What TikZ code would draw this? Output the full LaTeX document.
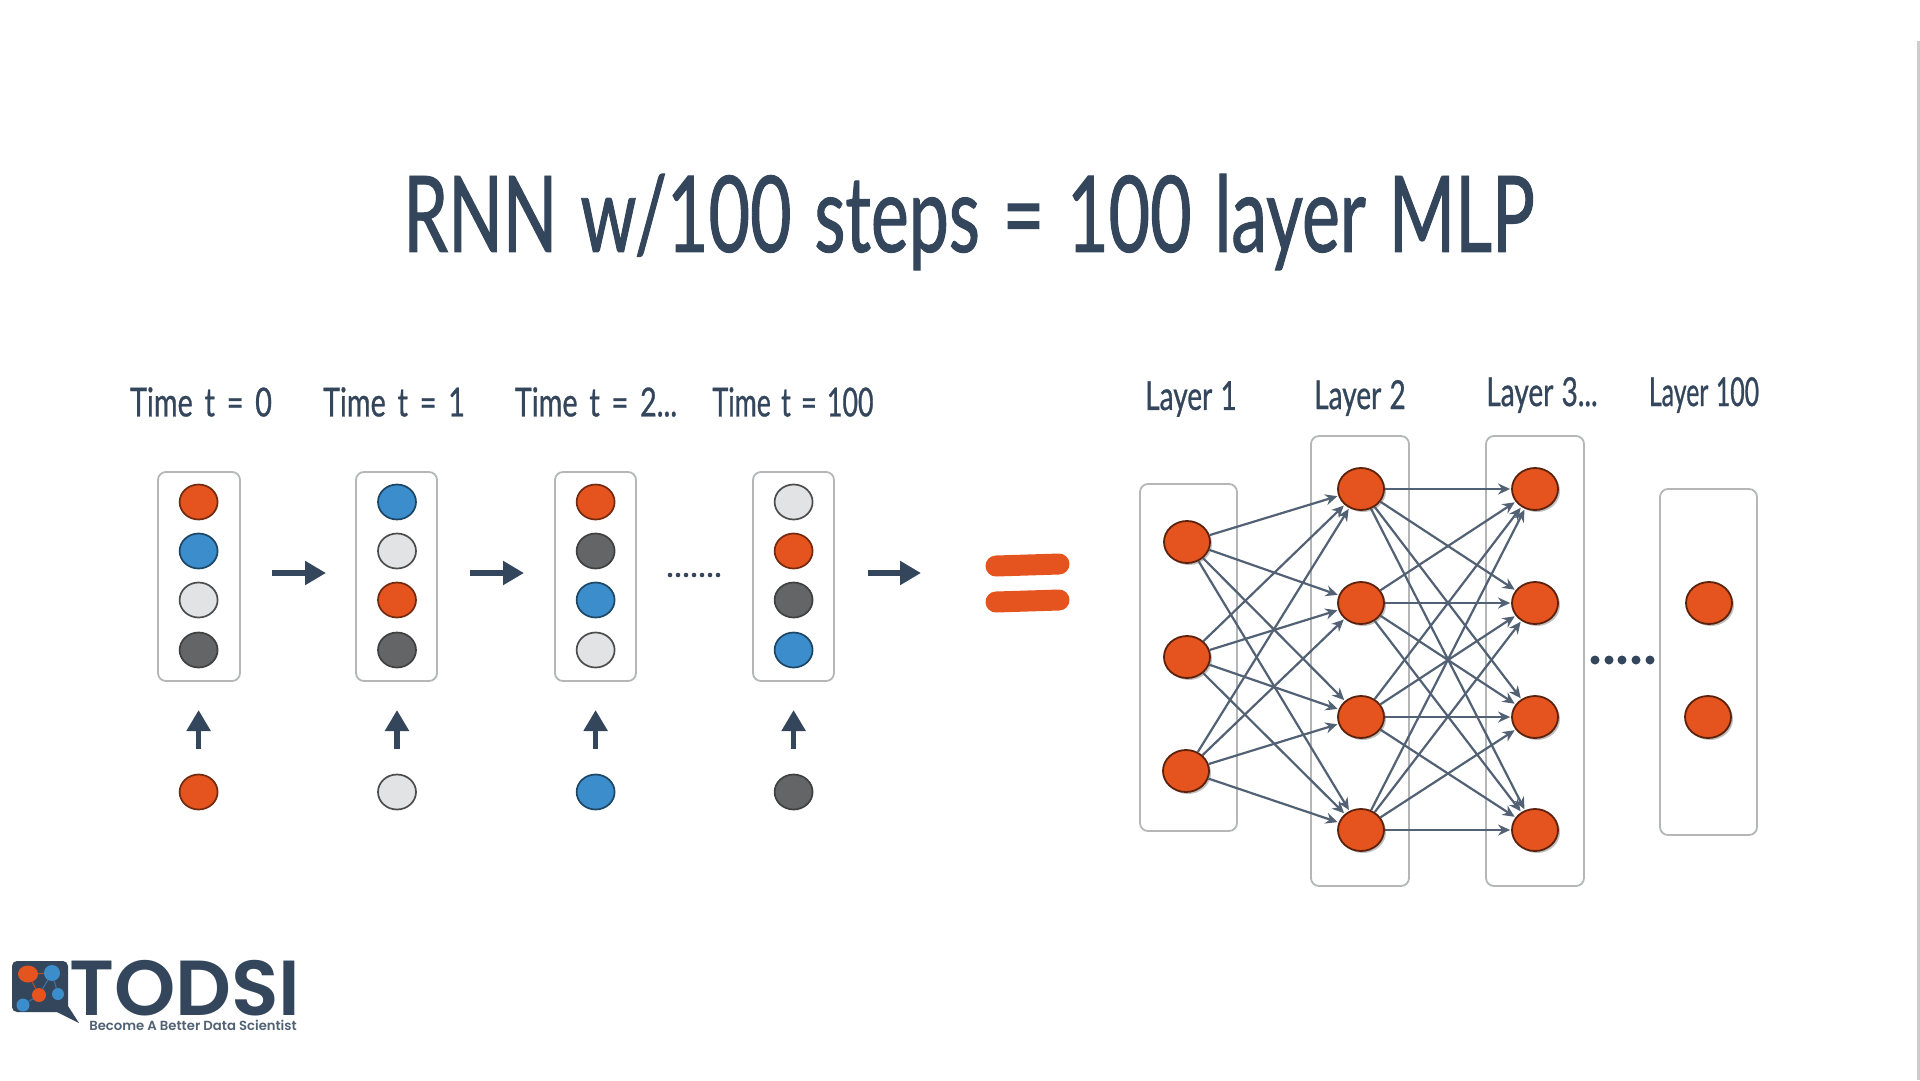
\documentclass[tikz,border=0pt]{standalone}
\usepackage{fontspec}
\usetikzlibrary{arrows.meta,shapes.geometric,shadows}
\newfontfamily\handfont[FakeStretch=0.675,FakeBold=0.9,WordSpace=1.25]{Lato}
\newfontfamily\labelfont[FakeStretch=0.72,FakeBold=0.7,WordSpace=1.6]{Lato}
\newfontfamily\layerfont[FakeStretch=0.70,FakeBold=0.7,WordSpace=1.15]{Lato}
\newfontfamily\narrowfont[FakeStretch=0.62,FakeBold=0.7,WordSpace=1.2]{Lato}
\newfontfamily\wideTfont[FakeStretch=0.67,FakeBold=0.7,WordSpace=1.5]{Lato}
\newfontfamily\logofont[BoldFont={Poppins SemiBold}]{Poppins}
\definecolor{ink}{HTML}{34465C}
\definecolor{orangeN}{HTML}{E5541E}
\definecolor{blueN}{HTML}{3B8DCB}
\definecolor{lightN}{HTML}{E2E3E4}
\definecolor{darkN}{HTML}{646566}
\definecolor{boxline}{HTML}{B4B6B8}
\tikzset{
  x=1pt,y=-1pt,
  frame/.style={draw=boxline,line width=1.8pt,rounded corners=8pt,fill=white},
  cell/.style={ellipse,inner sep=0pt,minimum width=38pt,minimum height=35pt,line width=1.7pt},
  cO/.style={cell,fill=orangeN,draw=orangeN!50!black},
  cB/.style={cell,fill=blueN,draw=blueN!50!black},
  cL/.style={cell,fill=lightN,draw=black!70},
  cD/.style={cell,fill=darkN,draw=black!75},
  neuron/.style={ellipse,inner sep=0pt,minimum width=46pt,minimum height=42pt,line width=1.8pt,
    fill=orangeN,draw=orangeN!40!black,drop shadow={shadow xshift=2pt,shadow yshift=-2pt,opacity=.25,fill=black}},
  link/.style={draw=ink!85,line width=2.2pt,-{Stealth[length=12pt,width=11pt]},shorten >=1pt},
  bigarrow/.style={draw=ink,line width=5.4pt,-{Triangle[length=21pt,width=23pt]}},
  title/.style={font=\handfont\fontsize{106}{110}\selectfont,text=ink,inner sep=0pt},
  label/.style={font=\labelfont\fontsize{40}{42}\selectfont,text=ink,inner sep=0pt},
  layerlabel/.style={font=\layerfont\fontsize{40}{42}\selectfont,text=ink,inner sep=0pt},
  dotmark/.style={circle,fill=ink,inner sep=0pt,minimum size=#1},
}
\begin{document}
\begin{tikzpicture}
\useasboundingbox (0,0) rectangle (1920,1080);
\fill[white] (0,0) rectangle (1920,1080);
\fill[black!20] (1916.5,41) rectangle (1920,1080);

\node[title] (ttl) at (969,222) {RNN w/100 steps = 100 layer MLP};

% time labels
\node[label] (t0) at (201,402) {Time t = 0};
\node[label] (t1) at (394,402) {Time t = 1};
\node[label] (t2) at (596,402) {Time t = 2...};
\node[label,font=\wideTfont\fontsize{40}{42}\selectfont] (t3) at (793,402) {Time t = 100};

% time boxes
\foreach \n/\xa/\xb in {0/158/240,1/356/437,2/555/636,3/753/834}
  \draw[frame] (\xa,472) rectangle (\xb,681);

% state cells and inputs
\foreach \n/\cx/\sa/\sb/\sc/\sd/\inp in {
  0/198.6/cO/cB/cL/cD/cO,
  1/397/cB/cL/cO/cD/cL,
  2/595.6/cO/cD/cB/cL/cB,
  3/793.6/cL/cO/cD/cB/cD}{
  \node[\sa] (s\n a) at (\cx,502) {};
  \node[\sb] (s\n b) at (\cx,551) {};
  \node[\sc] (s\n c) at (\cx,600) {};
  \node[\sd] (s\n d) at (\cx,650) {};
  \node[\inp] (in\n) at (\cx,792) {};
  \coordinate (ua\n) at (\cx,749);
  \coordinate (ub\n) at (\cx,710);
  \draw[bigarrow] (ua\n) -- (ub\n);
}

% horizontal arrows
\coordinate (ha0) at (272,573); \coordinate (hb0) at (326,573);
\coordinate (ha1) at (470,573); \coordinate (hb1) at (524,573);
\coordinate (ha2) at (868,573); \coordinate (hb2) at (921,573);
\foreach \i in {0,1,2} \draw[bigarrow] (ha\i) -- (hb\i);

% small dots
\foreach \i/\x in {0/670,1/678,2/686,3/694,4/702,5/710,6/718}
  \node[dotmark=4.6pt] (sd\i) at (\x,575) {};

% equals sign
\coordinate (e1a) at (996,566); \coordinate (e1b) at (1059,564);
\coordinate (e2a) at (996,602); \coordinate (e2b) at (1059,600);
\draw[orangeN,line width=21pt,line cap=round] (e1a) -- (e1b);
\draw[orangeN,line width=21pt,line cap=round] (e2a) -- (e2b);

% layer labels
\node[layerlabel] (l1) at (1191,399) {Layer 1};
\node[layerlabel] (l2) at (1360,398) {Layer 2};
\node[layerlabel] (l3) at (1542,395) {Layer 3...};
\node[layerlabel,font=\narrowfont\fontsize{40}{42}\selectfont] (l4) at (1704,395) {Layer 100};

% layer boxes
\draw[frame] (1140,484) rectangle (1237,831);
\draw[frame] (1311,436) rectangle (1409,886);
\draw[frame] (1486,436) rectangle (1584,886);
\draw[frame] (1660,489) rectangle (1757,835);

% neurons
\node[neuron] (a1) at (1187,542) {};
\node[neuron] (a2) at (1187,657) {};
\node[neuron] (a3) at (1186,771) {};
\foreach \i/\y in {1/489,2/603,3/717,4/830}{
  \node[neuron] (b\i) at (1361,\y) {};
  \node[neuron] (c\i) at (1535,\y) {};
}
\node[neuron] (d1) at (1709,603) {};
\node[neuron] (d2) at (1708,717) {};

% connections
\foreach \i in {1,2,3}
  \foreach \j in {1,2,3,4}
    \draw[link] (a\i) -- (b\j);
\foreach \i in {1,2,3,4}
  \foreach \j in {1,2,3,4}
    \draw[link] (b\i) -- (c\j);

% big dots
\foreach \i/\x in {0/1595,1/1609,2/1622,3/1636,4/1650}
  \node[dotmark=9pt] (bd\i) at (\x,660) {};

% logo
\fill[ink,rounded corners=5pt] (12,961) -- (68,961) -- (68,1012) -- (12,1012) -- cycle;
\fill[ink] (55,1011) -- (68,1006) -- (79,1023) -- cycle;
\node[ellipse,fill=orangeN,inner sep=0pt,minimum width=20pt,minimum height=17pt] (la) at (28,974) {};
\node[circle,fill=blueN,inner sep=0pt,minimum size=16pt] (lb) at (52,973) {};
\node[circle,fill=orangeN,inner sep=0pt,minimum size=14pt] (lc) at (39,995) {};
\node[circle,fill=blueN,inner sep=0pt,minimum size=12pt] (ld) at (58,994) {};
\node[circle,fill=blueN,inner sep=0pt,minimum size=13pt] (le) at (23,1005) {};
\draw[orangeN!70!ink,line width=1pt] (la) -- (lb) (la) -- (lc);
\draw[blueN!70!ink,line width=1pt] (lb) -- (lc) (lb) -- (ld) (lc) -- (le);
\node[inner sep=0pt,anchor=south,text height=53pt,text depth=0pt,text=ink,font=\logofont\bfseries\fontsize{78}{78}\selectfont] (brand) at (185,1016) {TODSI};
\node[inner sep=0pt,anchor=center,text height=9pt,text depth=0pt,text=ink!85,font=\logofont\bfseries\fontsize{13.2}{14}\selectfont] (tag) at (193,1025.5) {Become A Better Data Scientist};
\end{tikzpicture}
\end{document}
